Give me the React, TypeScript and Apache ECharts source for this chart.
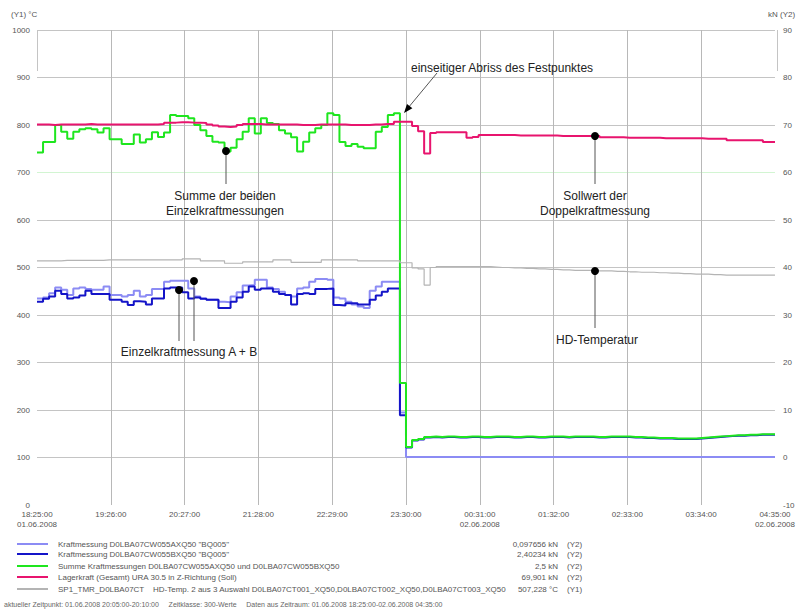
import React, { useEffect, useRef } from "react";
import * as echarts from "echarts";

const timeLabels = [
  "18:25:00\n01.06.2008", "19:26:00", "20:27:00", "21:28:00", "22:29:00", "23:30:00",
  "00:31:00\n02.06.2008", "01:32:00", "02:33:00", "03:34:00", "04:35:00\n02.06.2008",
];
const leftTicks = ["0", "100", "200", "300", "400", "500", "600", "700", "800", "900", "1000"];
const rightTicks = ["-10", "0", "10", "20", "30", "40", "50", "60", "70", "80", "90"];
const stepMinutes = 5;
const totalMinutes = 610;

// Kraftmessung A (kN), 5-minute values
const kraftA = [
  33.5, 33.7, 34.6, 35.8, 35.3, 34.2, 35.6, 35.8, 35.5, 35.3,
  35.3, 36.0, 34.2, 34.2, 33.9, 34.2, 35.1, 33.9, 34.2, 35.5,
  35.5, 37.0, 37.2, 37.2, 37.2, 35.6, 33.9, 33.5, 33.2, 33.2,
  32.8, 32.7, 33.9, 34.8, 36.2, 36.3, 37.4, 37.4, 35.8, 35.5,
  34.9, 34.2, 33.9, 35.6, 35.8, 37.0, 37.6, 37.6, 37.4, 33.7,
  33.5, 32.8, 32.2, 31.8, 31.5, 35.1, 36.0, 37.0, 37.0, 37.0,
  9.5, 0.1, 0.1, 0.1, 0.1, 0.1, 0.1, 0.1, 0.1, 0.1,
  0.1, 0.1, 0.1, 0.1, 0.1, 0.1, 0.1, 0.1, 0.1, 0.1,
  0.1, 0.1, 0.1, 0.1, 0.1, 0.1, 0.1, 0.1, 0.1, 0.1,
  0.1, 0.1, 0.1, 0.1, 0.1, 0.1, 0.1, 0.1, 0.1, 0.1,
  0.1, 0.1, 0.1, 0.1, 0.1, 0.1, 0.1, 0.1, 0.1, 0.1,
  0.1, 0.1, 0.1, 0.1, 0.1, 0.1, 0.1, 0.1, 0.1, 0.1,
  0.1, 0.1,
];
// Kraftmessung B (kN)
const kraftB = [
  32.8, 33.4, 33.9, 35.1, 34.4, 33.5, 33.7, 34.1, 35.1, 34.4,
  34.4, 34.4, 33.2, 33.2, 32.8, 32.1, 32.9, 32.8, 32.2, 33.5,
  33.5, 35.6, 35.8, 35.8, 34.8, 33.5, 33.7, 33.4, 33.2, 33.2,
  31.5, 31.5, 32.8, 33.7, 34.9, 36.0, 35.3, 35.6, 35.6, 34.9,
  34.4, 34.2, 32.2, 34.4, 34.6, 34.4, 35.5, 35.5, 35.6, 32.1,
  32.0, 32.5, 32.5, 32.2, 32.2, 33.2, 34.1, 34.9, 35.6, 35.6,
  8.9, 2.1, 3.6, 3.8, 4.2, 4.3, 4.2, 4.3, 4.3, 4.2,
  4.2, 4.3, 4.3, 4.2, 4.2, 4.3, 4.3, 4.3, 4.2, 4.2,
  4.3, 4.3, 4.2, 4.2, 4.3, 4.3, 4.3, 4.2, 4.3, 4.3,
  4.3, 4.3, 4.2, 4.2, 4.3, 4.3, 4.3, 4.3, 4.2, 4.2,
  4.1, 4.1, 4.0, 4.0, 4.0, 3.9, 3.9, 3.9, 3.9, 4.0,
  4.1, 4.2, 4.3, 4.4, 4.5, 4.6, 4.6, 4.7, 4.7, 4.8,
  4.8, 4.8,
];
// Summe Kraftmessungen (kN)
const kraftSumme = [
  64.2, 66.4, 66.4, 70.0, 68.6, 67.1, 68.6, 69.1, 69.3, 69.1,
  68.4, 69.3, 67.0, 67.0, 66.0, 66.0, 68.0, 66.3, 67.0, 68.5,
  67.5, 68.4, 72.1, 71.9, 71.9, 71.4, 70.0, 68.9, 67.7, 66.5,
  66.3, 64.4, 65.2, 67.0, 68.6, 71.4, 68.2, 71.4, 70.4, 70.2,
  68.9, 68.2, 67.4, 64.4, 66.5, 68.4, 69.3, 70.0, 72.5, 72.1,
  66.4, 65.6, 66.0, 65.4, 65.1, 65.1, 68.6, 69.6, 72.1, 72.5,
  15.7, 2.2, 3.7, 3.9, 4.3, 4.4, 4.3, 4.4, 4.4, 4.3,
  4.3, 4.4, 4.4, 4.3, 4.3, 4.4, 4.4, 4.4, 4.3, 4.3,
  4.4, 4.4, 4.3, 4.3, 4.4, 4.4, 4.4, 4.3, 4.4, 4.4,
  4.4, 4.4, 4.3, 4.3, 4.4, 4.4, 4.4, 4.4, 4.3, 4.3,
  4.2, 4.2, 4.1, 4.1, 4.1, 4.0, 4.0, 4.0, 4.0, 4.1,
  4.2, 4.3, 4.4, 4.5, 4.6, 4.7, 4.7, 4.8, 4.8, 4.9,
  4.9, 4.9,
];
// Lagerkraft Soll (kN)
const lagerkraftSoll = [
  70.1, 70.1, 70.0, 70.1, 70.1, 70.1, 70.1, 70.1, 70.2, 70.1,
  70.1, 70.1, 70.1, 70.1, 70.1, 70.1, 70.1, 70.1, 70.1, 70.1,
  70.2, 70.5, 70.5, 70.6, 70.6, 70.5, 70.5, 70.4, 70.1, 69.9,
  69.7, 69.6, 69.7, 70.0, 70.2, 70.2, 70.2, 70.1, 70.1, 70.1,
  70.1, 70.1, 70.1, 70.0, 70.0, 70.0, 70.1, 70.1, 70.1, 70.1,
  70.1, 70.0, 70.0, 70.0, 70.0, 70.1, 70.1, 70.2, 70.2, 70.7,
  70.7, 70.7, 69.8, 68.7, 64.0, 68.3, 68.5, 68.5, 68.5, 68.5,
  68.5, 67.3, 67.5, 67.9, 67.9, 67.9, 67.9, 67.9, 67.9, 67.8,
  67.8, 67.8, 67.8, 67.8, 67.8, 67.8, 67.7, 67.7, 67.7, 67.7,
  67.7, 67.7, 67.7, 67.4, 67.4, 67.4, 67.4, 67.3, 67.3, 67.3,
  67.3, 67.3, 67.3, 67.2, 67.2, 67.2, 67.2, 67.2, 67.2, 67.2,
  67.1, 67.1, 67.1, 67.1, 66.8, 66.8, 66.8, 66.8, 66.8, 66.8,
  66.4, 66.4,
];
// HD-Temperatur (°C)
const hdTemperatur = [
  514, 514, 514, 514, 515, 515, 515, 515, 515, 515,
  515, 516, 516, 516, 516, 516, 516, 516, 516, 516,
  516, 516, 516, 516, 518, 518, 518, 514, 514, 514,
  514, 509, 509, 509, 512, 512, 512, 512, 512, 516,
  516, 516, 511, 511, 511, 511, 511, 516, 516, 516,
  516, 516, 516, 514, 514, 514, 514, 514, 514, 514,
  510, 510, 499, 497, 463, 500, 502, 502, 502, 502,
  502, 502, 502, 502, 502, 501, 500, 500, 499, 499,
  498, 498, 497, 497, 496, 496, 495, 495, 494, 494,
  494, 494, 493, 493, 493, 492, 492, 491, 491, 490,
  490, 490, 489, 489, 488, 488, 487, 487, 486, 486,
  486, 485, 485, 484, 484, 484, 484, 484, 484, 484,
  484, 484,
];

const legendNames = [
  'Kraftmessung D0LBA07CW055AXQ50 "BQ005"',
  'Kraftmessung D0LBA07CW055BXQ50 "BQ005"',
  "Summe Kraftmessungen D0LBA07CW055AXQ50 und D0LBA07CW055BXQ50",
  "Lagerkraft (Gesamt) URA 30.5 in Z-Richtung (Soll)",
  "SP1_TMR_D0LBA07CT    HD-Temp. 2 aus 3 Auswahl D0LBA07CT001_XQ50,D0LBA07CT002_XQ50,D0LBA07CT003_XQ50",
];
const legendValues = ["0,097656 kN", "2,40234 kN", "2,5 kN", "69,901 kN", "507,228 °C"];
const legendAxes = ["(Y2)", "(Y2)", "(Y2)", "(Y2)", "(Y1)"];
const colors = ["#8c8cf4", "#1414c8", "#1ee61e", "#e8146e", "#b4b4b4"];
const footer =
  "aktueller Zeitpunkt: 01.06.2008 20:05:00-20:10:00     Zeitklasse: 300-Werte     Daten aus Zeitraum: 01.06.2008 18:25:00-02.06.2008 04:35:00";

function toSteps(values: number[]) {
  const pts: [number, number][] = values.map((v, i) => [i * stepMinutes, v]);
  pts.push([totalMinutes, values[values.length - 1]]);
  return pts;
}

const FONT = "'Liberation Sans', Arial, sans-serif";

export default function App() {
  const ref = useRef<HTMLDivElement>(null);
  useEffect(() => {
    document.body.style.margin = "0";
    const chart = echarts.init(ref.current!, null, { renderer: "svg" });
    const seriesData = [kraftA, kraftB, kraftSumme, lagerkraftSoll, hdTemperatur];
    const yIdx = [1, 1, 1, 1, 0];
    const widths = [2, 2, 2, 2, 1.2];

    const gray = "#c4c4c4";
    const yColors = leftTicks.map((_, i) => (i === 0 ? "rgba(0,0,0,0)" : i === 7 ? "#d2f5d2" : gray));
    const xColors = timeLabels.map((_, i) => (i === 0 || i === timeLabels.length - 1 ? "rgba(0,0,0,0)" : "#b8b8b8"));

    const graphics: any[] = [];
    // axis unit names
    graphics.push({ type: "text", left: 11, top: 10, style: { text: "(Y1) °C", font: `8px ${FONT}`, fill: "#555" } });
    graphics.push({ type: "text", x: 768, y: 10, style: { text: "kN (Y2)", font: `8px ${FONT}`, fill: "#555" } });
    graphics.push({ type: "line", shape: { x1: 37.5, y1: 30, x2: 37.5, y2: 71 }, style: { stroke: "#c4c4c4", lineWidth: 1 } });
    graphics.push({ type: "line", shape: { x1: 777.5, y1: 30, x2: 777.5, y2: 71 }, style: { stroke: "#c4c4c4", lineWidth: 1 } });

    // legend
    const legendY = [544, 554, 566, 577, 589];
    legendNames.forEach((name, i) => {
      graphics.push({ type: "line", shape: { x1: 17, y1: legendY[i], x2: 48, y2: legendY[i] }, style: { stroke: colors[i], lineWidth: 2 } });
      graphics.push({ type: "text", x: 58, y: legendY[i], style: { text: name, font: `8px ${FONT}`, fill: "#555", verticalAlign: "middle" } });
      graphics.push({ type: "text", x: 558, y: legendY[i], style: { text: legendValues[i], font: `8px ${FONT}`, fill: "#555", align: "right", verticalAlign: "middle" } });
      graphics.push({ type: "text", x: 567, y: legendY[i], style: { text: legendAxes[i], font: `8px ${FONT}`, fill: "#555", verticalAlign: "middle" } });
    });
    graphics.push({ type: "text", x: 4, y: 604, style: { text: footer, font: `7px ${FONT}`, fill: "#666", verticalAlign: "middle" } });

    // annotations
    const annFont = `12px ${FONT}`;
    const dot = (x: number, y: number) => ({ type: "circle", shape: { cx: x, cy: y, r: 4 }, style: { fill: "#000" }, z: 100 });
    const vline = (x: number, y1: number, y2: number) => ({ type: "line", shape: { x1: x, y1, x2: x, y2 }, style: { stroke: "#555", lineWidth: 1 }, z: 99 });
    const label = (x: number, y: number, text: string) => ({ type: "text", x, y, style: { text, font: annFont, fill: "#222", align: "center", verticalAlign: "middle", lineHeight: 15 }, z: 100 });
    graphics.push(vline(226, 151, 184), dot(226, 151), label(225, 203, "Summe der beiden\nEinzelkraftmessungen"));
    graphics.push(vline(595, 136, 184), dot(595, 136), label(595, 203, "Sollwert der\nDoppelkraftmessung"));
    graphics.push(vline(595, 271, 328), dot(595, 271), label(597, 340, "HD-Temperatur"));
    graphics.push(vline(179, 290, 341), vline(194, 281, 341), dot(179, 290), dot(194, 281), label(189, 352, "Einzelkraftmessung A + B"));
    graphics.push({ type: "text", x: 411, y: 68, style: { text: "einseitiger Abriss des Festpunktes", font: annFont, fill: "#222", verticalAlign: "middle" }, z: 100 });
    graphics.push({ type: "line", shape: { x1: 437, y1: 73, x2: 408, y2: 108 }, style: { stroke: "#555", lineWidth: 1 }, z: 100 });
    graphics.push({ type: "polygon", shape: { points: [[404, 113], [412.4, 108.3], [407.0, 103.9]] }, style: { fill: "#000" }, z: 100 });

    chart.setOption({
      animation: false,
      backgroundColor: "#fff",
      grid: { left: 37, right: 21, top: 30, bottom: 107, containLabel: false },
      xAxis: {
        type: "value", min: 0, max: totalMinutes, interval: 61,
        axisLine: { show: false }, axisTick: { show: false },
        axisLabel: {
          formatter: (v: number) => timeLabels[Math.round(v / 61)] ?? "",
          fontSize: 8, fontFamily: FONT, color: "#555", lineHeight: 10, margin: 4,
        },
        splitLine: { show: true, lineStyle: { color: xColors, width: 1 } },
      },
      yAxis: [
        {
          type: "value", min: 0, max: 1000, interval: 100,
          axisLine: { show: false }, axisTick: { show: false },
          axisLabel: { formatter: (v: number) => leftTicks[Math.round(v / 100)] ?? "", fontSize: 8, fontFamily: FONT, color: "#555", margin: 7 },
          splitLine: { show: true, lineStyle: { color: yColors, width: 1 } },
        },
        {
          type: "value", min: -10, max: 90, interval: 10,
          axisLine: { show: false }, axisTick: { show: false },
          axisLabel: { formatter: (v: number) => rightTicks[Math.round((v + 10) / 10)] ?? "", fontSize: 8, fontFamily: FONT, color: "#555", margin: 8 },
          splitLine: { show: false },
        },
      ],
      series: seriesData.map((d, i) => ({
        type: "line",
        name: legendNames[i],
        step: "end",
        yAxisIndex: yIdx[i],
        data: toSteps(d),
        showSymbol: false,
        symbol: "none",
        lineStyle: { color: colors[i], width: widths[i] },
        itemStyle: { color: colors[i] },
      })),
      graphic: graphics,
    });
    return () => chart.dispose();
  }, []);
  return <div ref={ref} style={{ position: "fixed", left: 0, top: 0, width: 798, height: 612 }} />;
}
